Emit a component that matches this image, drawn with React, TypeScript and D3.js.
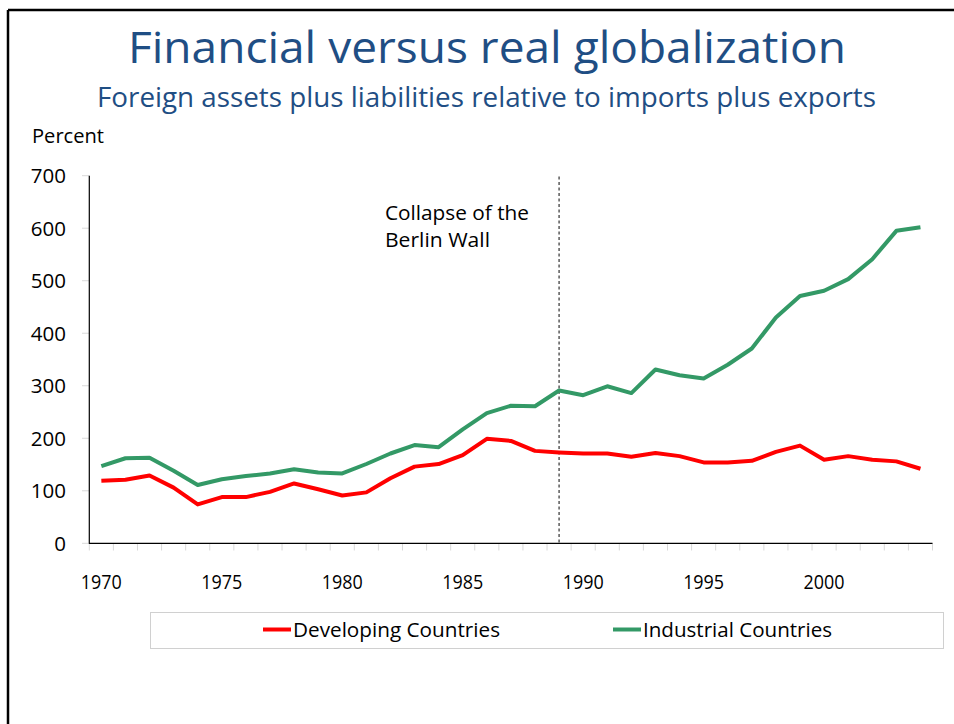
import React from "react";
import * as d3 from "d3";

const years = [
  1970, 1971, 1972, 1973, 1974, 1975, 1976, 1977, 1978, 1979,
  1980, 1981, 1982, 1983, 1984, 1985, 1986, 1987, 1988, 1989,
  1990, 1991, 1992, 1993, 1994, 1995, 1996, 1997, 1998, 1999,
  2000, 2001, 2002, 2003, 2004,
];
const developing = [
  119, 121, 129, 106, 74, 88, 88, 98, 114, 103,
  91, 97, 124, 146, 151, 168, 199, 195, 176, 173,
  171, 171, 165, 172, 166, 154, 154, 157, 174, 186,
  159, 166, 159, 156, 142,
];
const industrial = [
  147, 162, 163, 138, 111, 122, 128, 133, 141, 135,
  133, 151, 171, 187, 183, 217, 248, 262, 261, 291,
  282, 299, 286, 331, 320, 314, 340, 371, 430, 471,
  481, 503, 541, 595, 602,
];
const yTicks = [0, 100, 200, 300, 400, 500, 600, 700];
const xLabelYears = [1970, 1975, 1980, 1985, 1990, 1995, 2000];
const seriesNames = ["Developing Countries", "Industrial Countries"];
const markerYear = 1989;
const annotation = ["Collapse of the", "Berlin Wall"];
const title = "Financial versus real globalization";
const subtitle = "Foreign assets plus liabilities relative to imports plus exports";
const yAxisTitle = "Percent";

const W = 954;
const H = 724;
const FONT = "'Open Sans', 'Noto Sans', sans-serif";

export default function App() {
  const x = d3.scaleBand<number>().domain(years).range([89.3, 932.5]).padding(0);
  const bw = x.bandwidth();
  const cx = (yr: number) => (x(yr) as number) + bw / 2;
  const y = d3.scaleLinear().domain([0, 700]).range([543.3, 175.7]);

  const line = d3
    .line<number>()
    .x((_, i) => cx(years[i]))
    .y((d) => y(d));

  const boundaries = [...years.map((yr) => x(yr) as number), x.range()[1]];

  const legendItems = [
    { name: seriesNames[0], color: "#FF0000", x0: 263, len: 207 },
    { name: seriesNames[1], color: "#339966", x0: 613, len: 189 },
  ];

  return (
    <svg
      width={W}
      height={H}
      style={{ position: "absolute", left: 0, top: 0, display: "block", background: "#fff" }}
      fontFamily={FONT}
    >
      {/* slide frame */}
      <line x1={8} y1={10} x2={W} y2={10} stroke="#000" strokeWidth={2.5} />
      <line x1={8} y1={10} x2={8} y2={H} stroke="#000" strokeWidth={2.5} />

      <text x={487} y={63} textAnchor="middle" fontSize={43} fill="#1F4E84" textLength={718} lengthAdjust="spacingAndGlyphs">
        {title}
      </text>
      <text x={486.5} y={107} textAnchor="middle" fontSize={27} fill="#1F4E84" textLength={779} lengthAdjust="spacingAndGlyphs">
        {subtitle}
      </text>
      <text x={32} y={143} fontSize={20} fill="#000" textLength={72} lengthAdjust="spacingAndGlyphs">
        {yAxisTitle}
      </text>

      {/* y ticks */}
      {yTicks.map((t) => (
        <g key={t}>
          <line x1={82} x2={89.3} y1={y(t)} y2={y(t)} stroke="#D9D9D9" strokeWidth={1} />
          <text x={66} y={y(t)} dy="0.36em" textAnchor="end" fontSize={20.5} fill="#000">
            {t}
          </text>
        </g>
      ))}
      {/* x ticks */}
      {boundaries.map((b, i) => (
        <line key={i} x1={b} x2={b} y1={543.3} y2={550.5} stroke="#D9D9D9" strokeWidth={1} />
      ))}
      {xLabelYears.map((yr) => (
        <text key={yr} x={cx(yr)} y={589} textAnchor="middle" fontSize={20.5} fill="#000" textLength={41} lengthAdjust="spacingAndGlyphs">
          {yr}
        </text>
      ))}

      {/* axes */}
      <line x1={89.3} x2={89.3} y1={175.7} y2={543.8} stroke="#000" strokeWidth={1.2} />
      <line x1={89} x2={932.5} y1={543.3} y2={543.3} stroke="#000" strokeWidth={1.2} />

      {/* marker line */}
      <line
        x1={cx(markerYear)}
        x2={cx(markerYear)}
        y1={176.5}
        y2={543.3}
        stroke="#404040"
        strokeWidth={1.3}
        strokeDasharray="3,2.5"
      />
      <text x={385} y={220} fontSize={20.5} fill="#000" textLength={144} lengthAdjust="spacingAndGlyphs">
        {annotation[0]}
      </text>
      <text x={385} y={247} fontSize={20.5} fill="#000" textLength={105} lengthAdjust="spacingAndGlyphs">
        {annotation[1]}
      </text>

      {/* series */}
      <path d={line(industrial) || ""} fill="none" stroke="#339966" strokeWidth={4} strokeLinejoin="round" />
      <path d={line(developing) || ""} fill="none" stroke="#FF0000" strokeWidth={4} strokeLinejoin="round" />

      {/* legend */}
      <rect x={150.5} y={612.5} width={793} height={36} fill="none" stroke="#D0D0D0" strokeWidth={1} />
      {legendItems.map((it) => (
        <g key={it.name}>
          <line x1={it.x0} x2={it.x0 + 28} y1={629.5} y2={629.5} stroke={it.color} strokeWidth={4} />
          <text x={it.x0 + 30} y={630} dy="0.36em" fontSize={20.5} fill="#000" textLength={it.len} lengthAdjust="spacingAndGlyphs">
            {it.name}
          </text>
        </g>
      ))}
    </svg>
  );
}
